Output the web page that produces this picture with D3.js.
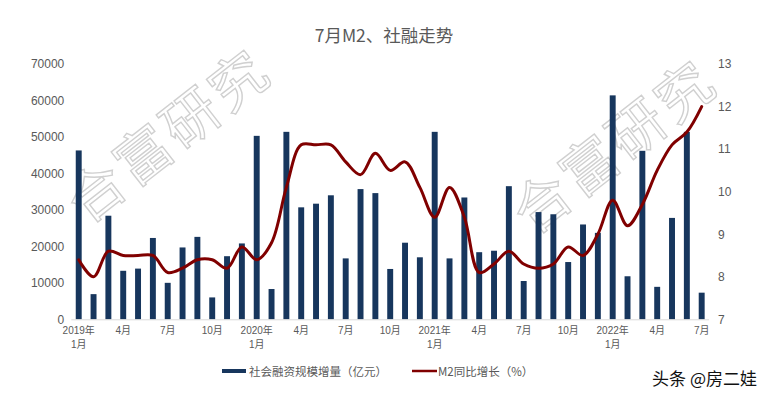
<!DOCTYPE html>
<html>
<head>
<meta charset="utf-8">
<script src="https://cdn.jsdelivr.net/npm/d3@7"></script>
<style>
  html, body { margin: 0; padding: 0; background: #fff; }
  svg { display: block; font-family: "Liberation Sans", "Noto Sans CJK SC", sans-serif; }
</style>
</head>
<body>
<svg id="chart" width="768" height="396"></svg>
<script>
// ---- data ----
const months = [
  "2019-01","2019-02","2019-03","2019-04","2019-05","2019-06","2019-07","2019-08","2019-09","2019-10","2019-11","2019-12",
  "2020-01","2020-02","2020-03","2020-04","2020-05","2020-06","2020-07","2020-08","2020-09","2020-10","2020-11","2020-12",
  "2021-01","2021-02","2021-03","2021-04","2021-05","2021-06","2021-07","2021-08","2021-09","2021-10","2021-11","2021-12",
  "2022-01","2022-02","2022-03","2022-04","2022-05","2022-06","2022-07"
];
const socialFinancing = [
  46300, 6900, 28400, 13300, 13900, 22300, 10000, 19700, 22600, 6000, 17300, 20800,
  50300, 8300, 51400, 30700, 31700, 34000, 16700, 35700, 34600, 13800, 21000, 17000,
  51400, 16700, 33400, 18400, 18800, 36500, 10500, 29400, 28800, 15700, 26000, 23700,
  61400, 11800, 46200, 8900, 27800, 51400, 7300
];
const m2Growth = [
  8.4, 8.0, 8.6, 8.5, 8.5, 8.5, 8.1, 8.2, 8.4, 8.4, 8.2, 8.7,
  8.4, 8.8, 10.1, 11.1, 11.1, 11.1, 10.7, 10.4, 10.9, 10.5, 10.7, 10.1,
  9.4, 10.1, 9.4, 8.1, 8.3, 8.6, 8.3, 8.2, 8.3, 8.7, 8.5, 9.0,
  9.8, 9.2, 9.7, 10.5, 11.1, 11.4, 12.0
];
const leftTicks = [0, 10000, 20000, 30000, 40000, 50000, 60000, 70000];
const rightTicks = [7, 8, 9, 10, 11, 12, 13];
const title = "7月M2、社融走势";
const seriesNames = ["社会融资规模增量（亿元）", "M2同比增长（%）"];
const watermark = "合富研究";
const credit = "头条 @房二娃";

// ---- layout ----
const svg = d3.select("#chart");
const plot = { left: 71.3, right: 709.1, top: 64, bottom: 319.3 };
const barColor = "#17365d";
const lineColor = "#800000";
const textColor = "#595959";

const x = d3.scalePoint().domain(d3.range(months.length)).range([plot.left, plot.right]).padding(0.5);
const step = x.step();
const barW = step * 0.4;
const yL = d3.scaleLinear().domain([0, 70000]).range([plot.bottom, plot.top]);
const yR = d3.scaleLinear().domain([7, 13]).range([plot.bottom, plot.top]);

// watermarks
function drawWatermark(cx, cy, angle) {
  svg.append("text")
    .attr("transform", `translate(${cx},${cy}) rotate(${angle})`)
    .attr("text-anchor", "middle")
    .attr("dominant-baseline", "central")
    .attr("font-family", "Noto Sans CJK SC")
    .attr("font-size", 56)
    .attr("letter-spacing", 4)
    .attr("fill", "none")
    .attr("stroke", "#d0d0d0")
    .attr("stroke-width", 1.4)
    .text(watermark);
}
drawWatermark(166, 132, -38);
drawWatermark(612, 143, -38);

// title
svg.append("text")
  .attr("x", 384).attr("y", 42)
  .attr("text-anchor", "middle")
  .attr("font-family", "Noto Sans CJK SC")
  .attr("font-size", 17.5)
  .attr("fill", textColor)
  .text(title);

// left axis labels
const gL = svg.append("g").attr("transform", `translate(${plot.left - 7},0)`)
  .call(d3.axisLeft(yL).tickValues(leftTicks).tickSize(0).tickPadding(0).tickFormat(d3.format("d")));
gL.select(".domain").remove();
gL.selectAll("text").attr("fill", textColor).attr("font-size", 12).attr("font-family", "Liberation Sans");

// right axis labels
const gR = svg.append("g").attr("transform", `translate(${plot.right + 9},0)`)
  .call(d3.axisRight(yR).tickValues(rightTicks).tickSize(0).tickPadding(0).tickFormat(d3.format("d")));
gR.select(".domain").remove();
gR.selectAll("text").attr("fill", textColor).attr("font-size", 12).attr("font-family", "Liberation Sans");

// bars
svg.append("g").selectAll("rect").data(socialFinancing).join("rect")
  .attr("x", (d, i) => x(i) - barW / 2)
  .attr("width", barW)
  .attr("y", d => yL(d))
  .attr("height", d => yL(0) - yL(d))
  .attr("fill", barColor);

// baseline
svg.append("line")
  .attr("x1", plot.left).attr("x2", plot.right)
  .attr("y1", plot.bottom + 0.5).attr("y2", plot.bottom + 0.5)
  .attr("stroke", "#d9d9d9").attr("stroke-width", 1);

// x labels
const xLab = svg.append("g");
months.forEach((m, i) => {
  if (i % 3 !== 0) return;
  const [yr, mo] = m.split("-").map(Number);
  const t = xLab.append("text")
    .attr("x", x(i)).attr("y", 334)
    .attr("text-anchor", "middle")
    .attr("font-family", "Liberation Sans, Noto Sans CJK SC")
    .attr("font-size", 10)
    .attr("fill", textColor);
  if (mo === 1) {
    t.append("tspan").attr("x", x(i)).attr("dy", 0).text(yr + "年");
    t.append("tspan").attr("x", x(i)).attr("dy", 14).text("1月");
  } else {
    t.text(mo + "月");
  }
});

// M2 line
const line = d3.line()
  .x((d, i) => x(i))
  .y(d => yR(d))
  .curve(d3.curveCatmullRom.alpha(0.5));
svg.append("path")
  .datum(m2Growth)
  .attr("d", line)
  .attr("fill", "none")
  .attr("stroke", lineColor)
  .attr("stroke-width", 3)
  .attr("stroke-linejoin", "round")
  .attr("stroke-linecap", "round");

// legend
const lg = svg.append("g").attr("font-family", "Noto Sans CJK SC").attr("font-size", 11.5).attr("fill", textColor);
lg.append("rect").attr("x", 222).attr("y", 369).attr("width", 24).attr("height", 4).attr("fill", barColor);
lg.append("text").attr("x", 249).attr("y", 371).attr("dominant-baseline", "central").text(seriesNames[0]);
lg.append("line").attr("x1", 412).attr("x2", 437).attr("y1", 371).attr("y2", 371)
  .attr("stroke", lineColor).attr("stroke-width", 2.5);
lg.append("text").attr("x", 438).attr("y", 371).attr("dominant-baseline", "central").text(seriesNames[1]);

// credit
svg.append("text")
  .attr("x", 757).attr("y", 377)
  .attr("text-anchor", "end")
  .attr("dominant-baseline", "central")
  .attr("font-family", "Noto Sans CJK SC")
  .attr("font-size", 17)
  .attr("fill", "#111")
  .text(credit);
</script>
</body>
</html>
